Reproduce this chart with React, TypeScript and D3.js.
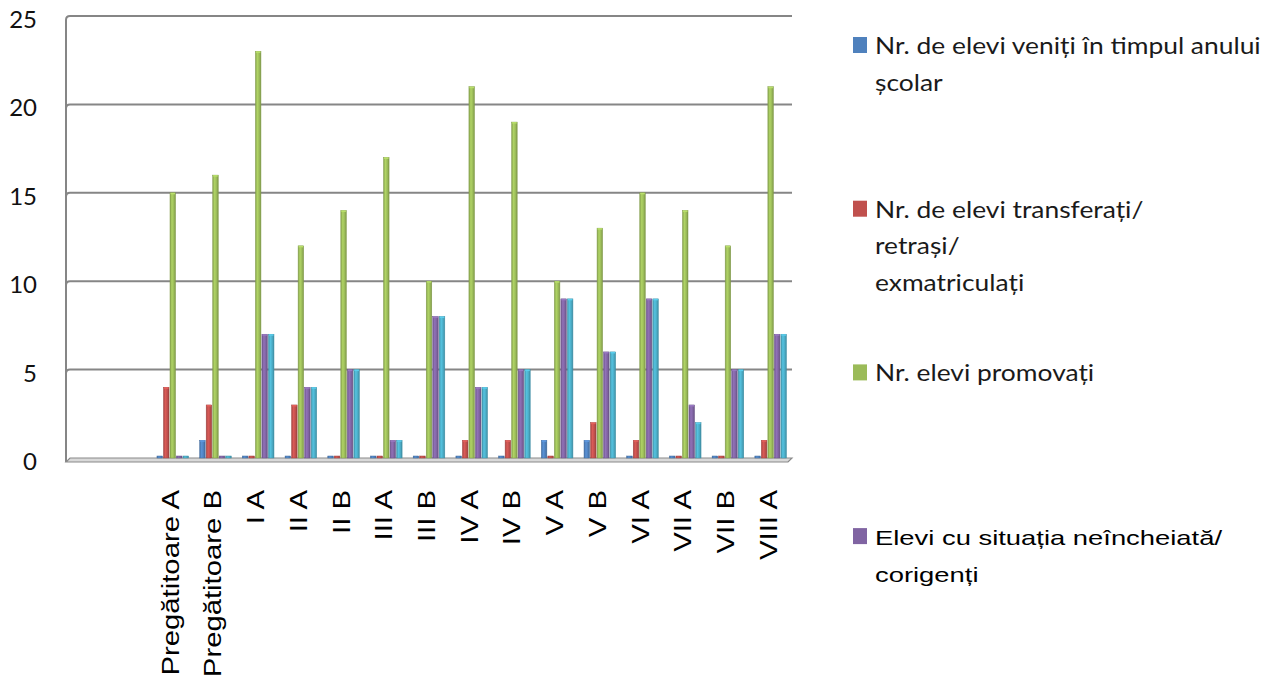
import React from "react";
import * as d3 from "d3";

// ---- data ----
const categories = ["", "", "Pregătitoare A", "Pregătitoare B", "I A", "II A", "II B", "III A", "III B", "IV A", "IV B", "V A", "V B", "VI A", "VII A", "VII B", "VIII A"];
const veniti = [null, null, 0, 1, 0, 0, 0, 0, 0, 0, 0, 1, 1, 0, 0, 0, 0];
const transferati = [null, null, 4, 3, 0, 3, 0, 0, 0, 1, 1, 0, 2, 1, 0, 0, 1];
const promovati = [null, null, 15, 16, 23, 12, 14, 17, 10, 21, 19, 10, 13, 15, 14, 12, 21];
const neincheiata = [null, null, 0, 0, 7, 4, 5, 1, 8, 4, 5, 9, 6, 9, 3, 5, 7];
const serie5 = [null, null, 0, 0, 7, 4, 5, 1, 8, 4, 5, 9, 6, 9, 2, 5, 7];
const yTicks = [0, 5, 10, 15, 20, 25];

const series = [
  { key: "veniti", values: veniti, color: "#4F81BD", legend: ["Nr. de elevi veniți în timpul anului", "școlar"], font: "calibri" },
  { key: "transferati", values: transferati, color: "#C0504D", legend: ["Nr. de elevi transferați/", "retrași/", "exmatriculați"], font: "calibri" },
  { key: "promovati", values: promovati, color: "#9BBB59", legend: ["Nr. elevi promovați"], font: "calibri" },
  { key: "neincheiata", values: neincheiata, color: "#8064A2", legend: ["Elevi cu situația neîncheiată/", "corigenți"], font: "arial" },
  { key: "serie5", values: serie5, color: "#4BACC6", legend: null, font: "arial" },
];

const W = 1265;
const H = 681;
const plot = { left: 66, right: 792, top: 16, bottom: 458 };
const depth = 4;

export default function App() {
  const y = d3.scaleLinear().domain([0, 25]).range([plot.bottom, plot.top]);
  const x = d3.scaleBand<string>().domain(categories.map((c, i) => String(i))).range([plot.left, plot.right]).paddingInner(0).paddingOuter(0);
  const bw = x.bandwidth();
  const groupW = bw * 0.74;
  const inner = d3.scaleBand<string>().domain(series.map((s) => s.key)).range([0, groupW]).paddingInner(0.15);

  const calibri = "Lato, 'Open Sans', sans-serif";
  const arial = "'Liberation Sans', Arial, sans-serif";

  return (
    <svg width={W} height={H} style={{ position: "fixed", left: 0, top: 0, background: "#fff" }}>
      <defs>
        {series.map((s) => {
          const c = d3.color(s.color)!;
          return (
            <linearGradient key={s.key} id={`g-${s.key}`} x1="0" x2="1" y1="0" y2="0">
              <stop offset="0%" stopColor={c.darker(0.4).formatHex()} />
              <stop offset="35%" stopColor={c.brighter(0.35).formatHex()} />
              <stop offset="70%" stopColor={s.color} />
              <stop offset="100%" stopColor={c.darker(0.6).formatHex()} />
            </linearGradient>
          );
        })}
      </defs>

      {/* left wall */}
      <line x1={plot.left} x2={plot.left} y1={y(25) + depth} y2={y(0) + depth} stroke="#868686" strokeWidth={2} />
      {/* floor */}
      <polygon
        points={`${plot.left + depth},${y(0)} ${plot.right},${y(0)} ${plot.right - depth},${y(0) + depth} ${plot.left},${y(0) + depth}`}
        fill="#d9d9d9"
        stroke="#8a8a8a"
        strokeWidth={1.2}
      />
      {/* gridlines */}
      {yTicks.filter((t) => t > 0).map((t) => (
        <path
          key={t}
          d={`M${plot.left},${y(t) + depth} Q${plot.left},${y(t)} ${plot.left + depth},${y(t)} L${plot.right},${y(t)}`}
          fill="none"
          stroke="#868686"
          strokeWidth={2}
        />
      ))}
      {/* y tick labels */}
      {yTicks.map((t) => (
        <text key={t} x={37} y={y(t) + 6} textAnchor="end" dominantBaseline="middle" fontFamily={calibri} fontSize={24} fill="#111">
          {t}
        </text>
      ))}

      {/* bars */}
      {categories.map((c, ci) => {
        const gx = (x(String(ci)) as number) + (bw - groupW) / 2;
        return (
          <g key={ci}>
            {series.map((s) => {
              const v = s.values[ci];
              if (v === null || v === undefined) return null;
              const bx = gx + (inner(s.key) as number);
              const w = inner.bandwidth();
              const top = Math.min(y(v), y(0) - 2);
              const h = y(0) - top;
              const cap = d3.color(s.color)!.brighter(0.5).formatHex();
              return (
                <g key={s.key}>
                  <rect x={bx} y={top} width={w} height={h} fill={`url(#g-${s.key})`} stroke={d3.color(s.color)!.darker(0.5).formatHex()} strokeWidth={0.5} />
                  {v > 0 && <rect x={bx + 0.5} y={top} width={w - 1} height={1.5} fill={cap} />}
                </g>
              );
            })}
          </g>
        );
      })}

      {/* category labels */}
      {categories.map((c, ci) => {
        if (!c) return null;
        const cx = (x(String(ci)) as number) + bw / 2 + 6;
        return (
          <text
            key={ci}
            transform={`translate(${cx},490) rotate(-90) scale(1.22,1)`}
            textAnchor="end"
            fontFamily={arial}
            fontSize={24}
            fill="#000"
          >
            {c}
          </text>
        );
      })}

      {/* legend */}
      {series.map((s, i) => {
        if (!s.legend) return null;
        const base = 54 + i * 163.7;
        const isArial = s.font === "arial";
        return (
          <g key={s.key}>
            <rect x={853} y={base - 17} width={14} height={16} fill={s.color} />
            {s.legend.map((line, li) => (
              <text
                key={li}
                transform={`translate(875,${base + li * 36.5}) scale(${isArial ? 1.37 : 1.1},1)`}
                fontFamily={isArial ? arial : calibri}
                fontSize={isArial ? 20 : 24}
                fill={isArial ? "#000" : "#1a1a1a"}
              >
                {line}
              </text>
            ))}
          </g>
        );
      })}
    </svg>
  );
}
